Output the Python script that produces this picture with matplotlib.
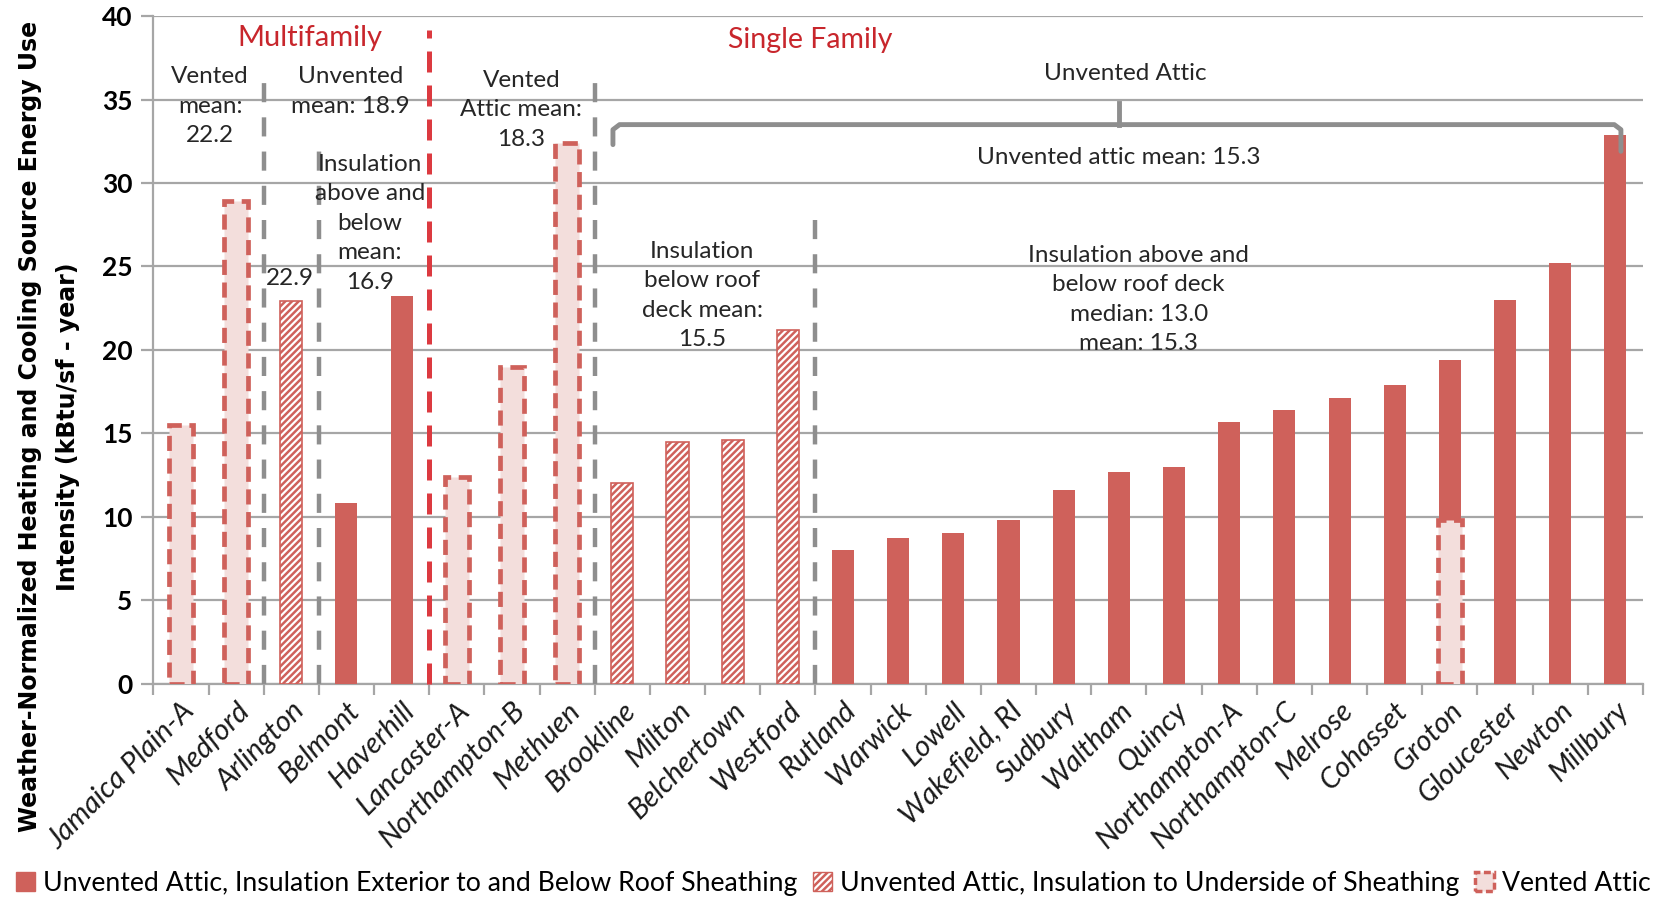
import numpy as np
import matplotlib
matplotlib.use('Agg')
import matplotlib.pyplot as plt
from matplotlib.patches import Patch

# Sites (x axis)
sites = ['Jamaica Plain-A', 'Medford', 'Arlington', 'Belmont', 'Haverhill', 'Lancaster-A',
         'Northampton-B', 'Methuen', 'Brookline', 'Milton', 'Belchertown', 'Westford',
         'Rutland', 'Warwick', 'Lowell', 'Wakefield, RI', 'Sudbury', 'Waltham', 'Quincy',
         'Northampton-A', 'Northampton-C', 'Melrose', 'Cohasset', 'Groton', 'Gloucester',
         'Newton', 'Millbury']

nan = np.nan
# Unvented attic, insulation exterior to and below roof sheathing
solid = [nan, nan, nan, 10.8, 23.2, nan, nan, nan, nan, nan, nan, nan,
         8.0, 8.7, 9.0, 9.8, 11.6, 12.7, 13.0, 15.7, 16.4, 17.1, 17.9, 19.4, 23.0, 25.2, 32.9]
# Unvented attic, insulation to underside of sheathing
hatched = [nan, nan, 22.9, nan, nan, nan, nan, nan, 12.0, 14.5, 14.6, 21.2,
           nan, nan, nan, nan, nan, nan, nan, nan, nan, nan, nan, nan, nan, nan, nan]
# Vented attic
vented = [15.5, 28.9, nan, nan, nan, 12.4, 19.0, 32.4, nan, nan, nan, nan,
          nan, nan, nan, nan, nan, nan, nan, nan, nan, nan, nan, 9.8, nan, nan, nan]

legend_labels = ['Unvented Attic, Insulation Exterior to and Below Roof Sheathing',
                 'Unvented Attic, Insulation to Underside of Sheathing',
                 'Vented Attic']

# styles
red      = '#CF615B'
pale     = '#F3DEDC'
grey     = '#8E8E8E'
gridgrey = '#A6A6A6'
darkred  = '#DC3A40'
font     = 'Lato'
txt      = 17.5

plt.rcParams['font.family'] = [font, 'DejaVu Sans']
plt.rcParams['hatch.linewidth'] = 1.8
plt.rcParams['hatch.color'] = red

fig = plt.figure(figsize=(16.67, 8.98), dpi=100)
ax  = fig.add_axes([0.092, 0.2388, 0.8936, 0.7432])

x  = np.arange(len(sites))
bw = 0.40

ax.bar(x, solid, width=bw, color=red, zorder=3)
ax.bar(x, hatched, width=bw, facecolor='white', edgecolor=red, hatch='/////', lw=1.2, zorder=3)
ax.bar(x, vented, width=bw + 0.04, facecolor=pale, edgecolor=red, lw=3.4,
       linestyle=(0, (3.2, 1.6)), zorder=4)

# group separators
def vline(xp, ytop, color, lw, dash):
    ax.plot([xp, xp], [0, ytop], color=color, lw=lw, linestyle=(0, dash), zorder=5, clip_on=False)

vline(1.5, 36.6, grey, 3.2, (4.3, 3.4))
vline(2.5, 32.5, grey, 3.2, (4.3, 3.4))
vline(4.5, 39.2, darkred, 3.6, (4.2, 2.6))
vline(7.5, 36.8, grey, 3.2, (4.3, 3.4))
vline(11.5, 28.5, grey, 3.2, (4.3, 3.4))

# bracket over the unvented single family group
bx0, bx1, bxc = 7.83, 26.1, 17.0
by, bend, btop = 33.5, 32.3, 34.8
ax.plot([bx0, bx0, bx0 + 0.12, bx1 - 0.12, bx1, bx1], [bend, by - 0.3, by, by, by - 0.3, bend - 0.4],
        color=grey, lw=3.5, solid_capstyle='round', zorder=5)
ax.plot([bxc, bxc], [by, btop], color=grey, lw=3.5, zorder=5)

# annotations
def note(xp, yp, s):
    ax.text(xp, yp, s, ha='center', va='top', fontsize=txt, color='#262626',
            linespacing=1.5, zorder=6)

ax.text(2.34, 38.7, 'Multifamily', ha='center', va='center', fontsize=21, color='#C8262C')
ax.text(11.41, 38.6, 'Single Family', ha='center', va='center', fontsize=20.5, color='#C8262C')
note(0.53, 37.0, 'Vented\nmean:\n22.2')
note(3.07, 37.0, 'Unvented\nmean: 18.9')
note(3.42, 31.75, 'Insulation\nabove and\nbelow\nmean:\n16.9')
note(1.97, 24.9, '22.9')
note(6.17, 36.8, 'Vented\nAttic mean:\n18.3')
note(17.12, 37.2, 'Unvented Attic')
note(17.0, 32.15, 'Unvented attic mean: 15.3')
note(9.45, 26.55, 'Insulation\nbelow roof\ndeck mean:\n15.5')
note(17.36, 26.3, 'Insulation above and\nbelow roof deck\nmedian: 13.0\nmean: 15.3')

# axes
ax.set_xlim(-0.5, len(sites) - 0.5)
ax.set_ylim(0, 40)
ax.set_yticks(np.arange(0, 41, 5))
ax.yaxis.grid(True, color=gridgrey, lw=1.6)
ax.set_axisbelow(True)
for s in ['top', 'right']:
    ax.spines[s].set_visible(False)
for s in ['left', 'bottom']:
    ax.spines[s].set_color(gridgrey)
    ax.spines[s].set_linewidth(1.6)

ax.set_xticks(x)
ax.set_xticks(np.arange(-0.5, len(sites), 1), minor=True)
ax.set_xticklabels(sites, rotation=45, ha='right', rotation_mode='anchor',
                   fontsize=21, style='italic', color='#1a1a1a')
ax.tick_params(axis='x', which='major', length=0, pad=10)
ax.tick_params(axis='x', which='minor', length=8, width=1.6, color=gridgrey)
ax.tick_params(axis='y', length=9, width=1.6, color=gridgrey, pad=6)
for lab in ax.get_yticklabels():
    lab.set_fontweight('bold')
    lab.set_fontsize(19)

ax.set_ylabel('Weather-Normalized Heating and Cooling Source Energy Use\nIntensity (kBtu/sf - year)',
              fontsize=17, fontweight='bold', family='DejaVu Sans', linespacing=1.75)
ax.yaxis.set_label_coords(-0.049, 0.385)

handles = [Patch(facecolor=red, edgecolor=red),
           Patch(facecolor='white', edgecolor=red, hatch='/////'),
           Patch(facecolor=pale, edgecolor=red, lw=2.5, linestyle=(0, (2, 1)))]
fig.legend(handles, legend_labels, loc='lower center', bbox_to_anchor=(0.5, -0.024), ncol=3,
           frameon=False, fontsize=19.2, handlelength=0.7, handleheight=0.7,
           handletextpad=0.3, columnspacing=0.6)

fig.savefig('out.png', dpi=100)
